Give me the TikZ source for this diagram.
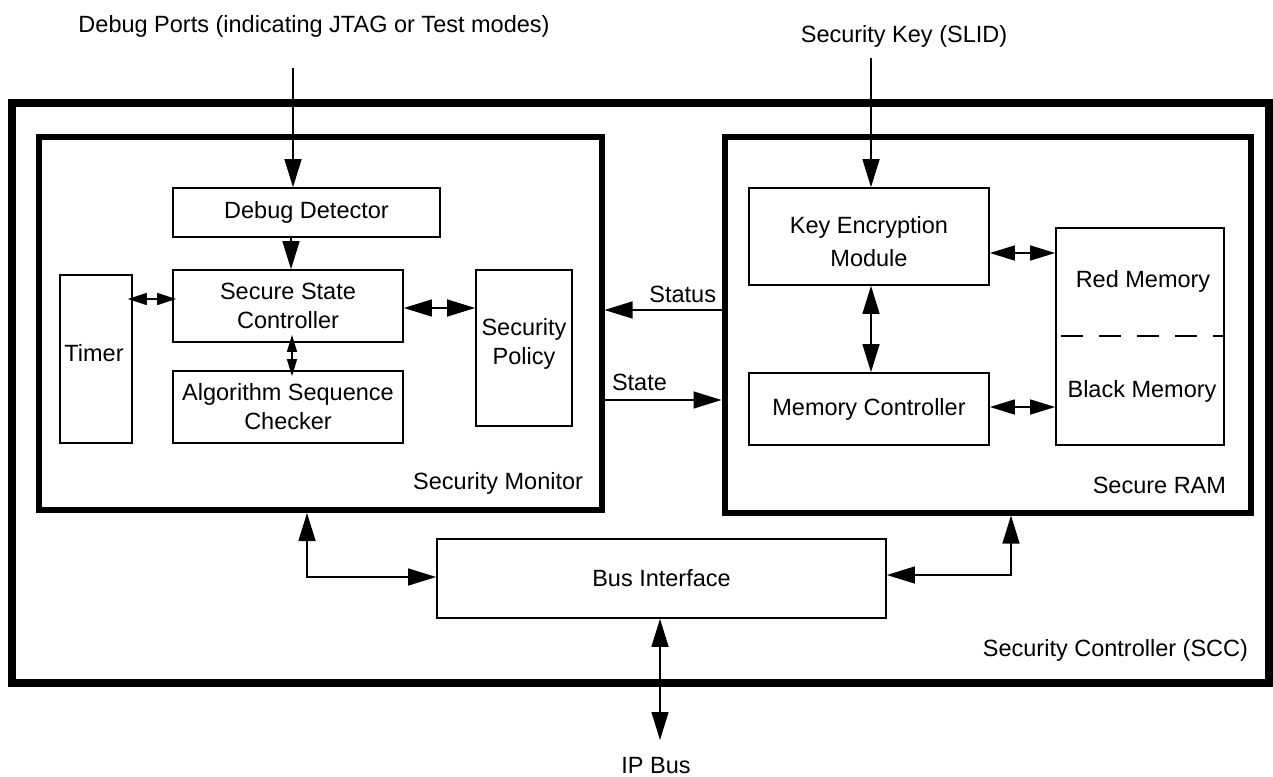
\documentclass[tikz,border=0pt]{standalone}
\usepackage{fontspec}
\setmainfont{Liberation Sans}
\usetikzlibrary{arrows.meta}
\tikzset{
  bt/.tip={Triangle[length=28pt,width=17pt]},
  mt/.tip={Triangle[length=25pt,width=15pt]},
  st/.tip={Triangle[length=19pt,width=12pt]},
  xt/.tip={Triangle[length=17pt,width=10pt]},
}
\begin{document}
\begin{tikzpicture}[x=1pt,y=-1pt,
  every node/.style={font=\fontsize{23.5}{29}\selectfont, inner sep=0pt, outer sep=0pt},
  box/.style={draw, line width=1.7pt, align=center, outer sep=0.85pt},
  frame/.style={draw, line width=6pt, outer sep=3pt},
  bigframe/.style={draw, line width=8pt, outer sep=4pt},
  wire/.style={line width=1.4pt},
  lbl/.style={align=center}
]
\useasboundingbox (0,0) rectangle (1273,776);

% frames
\node[bigframe, minimum width=1257pt, minimum height=580.5pt] (scc) at (640.5,392.75) {};
\node[frame, minimum width=562.5pt, minimum height=373pt] (sm) at (320.25,323.5) {};
\node[frame, minimum width=526.5pt, minimum height=375.5pt] (sr) at (987.75,324.75) {};

% security monitor blocks
\node[box, minimum width=267pt, minimum height=49pt] (dd) at (306.5,212.5) {Debug Detector};
\node[box, minimum width=230pt, minimum height=72pt] (ssc) at (288,306) {Secure State\\Controller};
\node[box, minimum width=72pt, minimum height=168pt] (timer) at (96,359) {};
\node[lbl] (timertxt) at (94,353.5) {Timer};
\node[box, minimum width=230pt, minimum height=72pt] (asc) at (288,407) {Algorithm Sequence\\Checker};
\node[box, minimum width=96pt, minimum height=156pt] (sp) at (524,348) {};
\node[lbl] (sptxt) at (524,344) {Security\\Policy};

% secure RAM blocks
\node[box, minimum width=240pt, minimum height=97pt] (kem) at (869,236.5) {};
\node[lbl] (kemtxt) at (869,242) {Key Encryption\\[4pt]Module};
\node[box, minimum width=240pt, minimum height=72pt] (mc) at (869,409) {Memory Controller};
\node[box, minimum width=168pt, minimum height=217pt] (mem) at (1140,336.5) {};
\coordinate (ydash) at (0,336);
\draw[line width=1.7pt, dash pattern=on 22pt off 16pt, dash phase=-6pt] (mem.west |- ydash) -- (mem.east |- ydash);
\node[lbl] (red) at (1143,281) {Red Memory};
\node[lbl] (black) at (1142,391) {Black Memory};

% bus interface
\node[box, minimum width=449pt, minimum height=79pt] (bi) at (661.5,578.5) {Bus Interface};

% external labels
\node[anchor=base] (dbgtxt) at (314,33) {Debug Ports (indicating JTAG or Test modes)};
\node[anchor=base] (keytxt) at (904,43) {Security Key (SLID)};
\node[anchor=base east] (stattxt) at (716,302) {Status};
\node[anchor=base west] (statetxt) at (612,390) {State};
\node[anchor=base east] (smtxt) at (583,489) {Security Monitor};
\node[anchor=base east] (srtxt) at (1226,493) {Secure RAM};
\node[anchor=base east] (scctxt) at (1248,656) {Security Controller (SCC)};
\node[anchor=base] (iptxt) at (656,773) {IP Bus};

% connector coordinates
\coordinate (dbg) at (293,68);
\coordinate (key) at (871,58);
\coordinate (xdd) at (291,0);
\coordinate (xasc) at (292,0);
\coordinate (ytim) at (0,299);
\coordinate (ysp) at (0,308);
\coordinate (ystat) at (0,310);
\coordinate (ystate) at (0,400);
\coordinate (yred) at (0,253);
\coordinate (yblack) at (0,407);
\coordinate (smb) at (307,577);
\coordinate (srb) at (1011,575);
\coordinate (ip) at (660,740);

% connectors
\draw[wire,-bt] (dbg) -- (dbg |- dd.north);
\draw[wire,-bt] (key) -- (key |- kem.north);
\draw[wire,-bt] (dd.south -| xdd) -- (ssc.north -| xdd);
\draw[wire,st-st, shorten <=-5pt, shorten >=-4pt] (timer.east |- ytim) -- (ssc.west |- ytim);
\draw[wire,bt-bt] (ssc.east |- ysp) -- (sp.west |- ysp);
\draw[wire,xt-xt, shorten <=-8pt, shorten >=-6pt] (ssc.south -| xasc) -- (asc.north -| xasc);
\draw[wire,-bt] (sr.west |- ystat) -- (sm.east |- ystat);
\draw[wire,-bt] (sm.east |- ystate) -- (sr.west |- ystate);
\draw[wire,mt-mt] (kem.east |- yred) -- (mem.west |- yred);
\draw[wire,mt-mt] (mc.east |- yblack) -- (mem.west |- yblack);
\draw[wire,bt-bt] (kem.south -| key) -- (mc.north -| key);
\draw[wire,bt-bt] (sm.south -| smb) |- (bi.west |- smb);
\draw[wire,bt-bt] (sr.south -| srb) |- (bi.east |- srb);
\draw[wire,bt-bt] (bi.south -| ip) -- (ip);
\end{tikzpicture}
\end{document}
